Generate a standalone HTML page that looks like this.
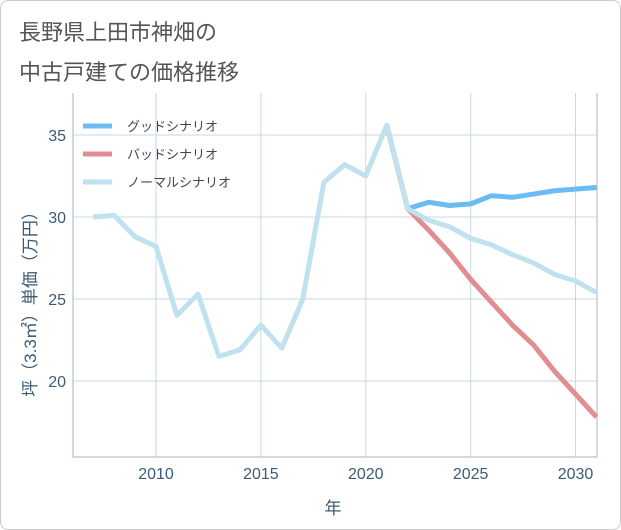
<!DOCTYPE html>
<html><head><meta charset="utf-8"><style>
body{margin:0;background:#fff;font-family:"Liberation Sans","Noto Sans CJK JP",sans-serif}
#wrap{position:relative;width:619px;height:528px;border:1px solid #ccc;border-radius:8px;overflow:hidden}
.t{position:absolute;left:18px;font-size:22px;color:#555}
</style></head><body>
<div id="wrap">
<div class="t" style="top:14px">長野県上田市神畑の</div>
<div class="t" style="top:54px">中古戸建ての価格推移</div>
<svg id="c" width="621" height="530" style="position:absolute;left:-1px;top:-1px"></svg>
</div>
<script>
const years=[2007,2008,2009,2010,2011,2012,2013,2014,2015,2016,2017,2018,2019,2020,2021,2022,2023,2024,2025,2026,2027,2028,2029,2030,2031];
const normal=[30.0,30.1,28.8,28.2,24.0,25.3,21.5,21.9,23.4,22.0,25.0,32.1,33.2,32.5,35.6,30.5,29.8,29.4,28.7,28.3,27.7,27.2,26.5,26.1,25.4];
const futureYears=[2021,2022,2023,2024,2025,2026,2027,2028,2029,2030,2031];
const good=[35.6,30.5,30.9,30.7,30.8,31.3,31.2,31.4,31.6,31.7,31.8];
const bad=[35.6,30.5,29.2,27.8,26.2,24.8,23.4,22.2,20.6,19.2,17.8];
const xTicks=[2010,2015,2020,2025,2030];
const yTicks=[20,25,30,35];
const NS='http://www.w3.org/2000/svg';
const svg=document.getElementById('c');
const L=73,R=597,T=93,B=457;
const x=v=>156+(v-2010)*(575.5-156)/20;
const y=v=>217-(v-30)*(217-135)/5;
function mk(t,a){const e=document.createElementNS(NS,t);for(const k in a)e.setAttribute(k,a[k]);svg.appendChild(e);return e;}
xTicks.forEach(v=>{
 const g=mk('line',{x1:x(v),x2:x(v),y1:T,y2:B,stroke:'#c8d8e6','stroke-width':1});
 
 
 const t=mk('text',{x:x(v),y:479,'text-anchor':'middle','font-size':16,fill:'#3e5a75'});
 t.textContent=v;
 
 
});
yTicks.forEach(v=>{
 const g=mk('line',{x1:L,x2:R,y1:y(v),y2:y(v),stroke:'#c8d8e6','stroke-width':1});
 
 
 const t=mk('text',{x:66,y:y(v)+6,'text-anchor':'end','font-size':16,fill:'#3e5a75'});
 t.textContent=v;
 
 
});
const ax=mk('path',{d:`M${L} ${T}V${B}H${R}V${T}`,fill:'none',stroke:'#aab4c0','stroke-width':1});


function line(xs,vs,col,name){
 const p=mk('polyline',{points:xs.map((v,i)=>x(v)+','+y(vs[i])).join(' '),fill:'none',stroke:col,'stroke-width':5,'stroke-linejoin':'round'});
 
 
}
line(futureYears,good,'#6bbcf2','good-scenario-line');
line(futureYears,bad,'#e08d93','bad-scenario-line');
line(years,normal,'#bfe2ee','normal-scenario-line');
const leg=[['グッドシナリオ','#6bbcf2','good'],['バッドシナリオ','#e08d93','bad'],['ノーマルシナリオ','#bfe2ee','normal']];
leg.forEach((l,i)=>{
 const yy=126+i*28;
 const s=mk('line',{x1:83,x2:112,y1:yy,y2:yy,stroke:l[1],'stroke-width':5});
 
 
 const t=mk('text',{x:127,y:yy+5,'font-size':13,fill:'#445'});
 t.textContent=l[0];
 
 
});
const xt=mk('text',{x:333,y:514,'text-anchor':'middle','font-size':17,fill:'#3e5a75'});
xt.textContent='年';


const yt=mk('text',{x:0,y:0,'text-anchor':'middle','font-size':17,fill:'#3e5a75',transform:'translate(36,300) rotate(-90)'});
yt.textContent='坪（3.3㎡）単価（万円）';


</script>
</body></html>
